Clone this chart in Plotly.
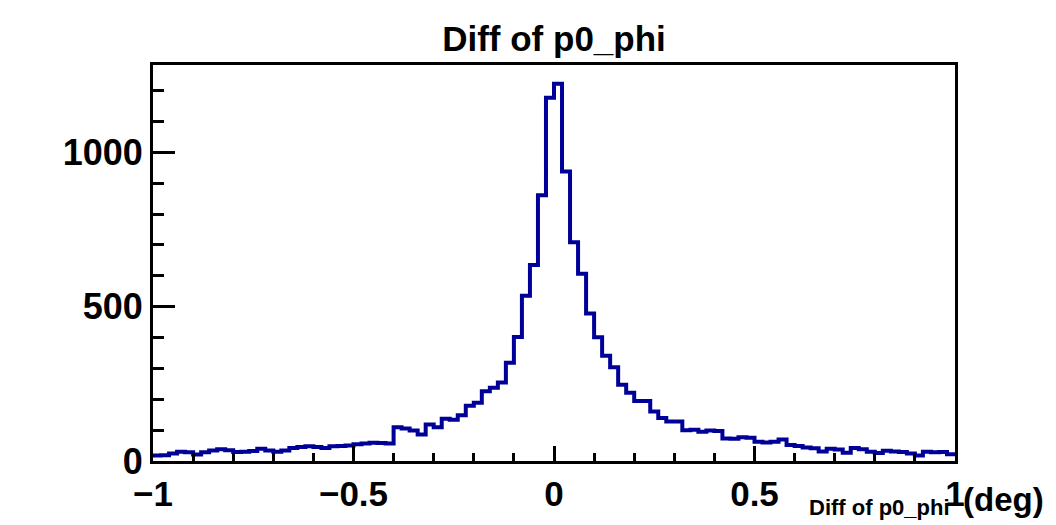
import numpy as np
import plotly.graph_objects as go

# Histogram binning and contents
x_min = -1.0
x_max = 1.0
n_bins = 100
counts = [
    18, 19, 24, 30, 28, 21, 28, 34, 38, 35,
    29, 30, 32, 40, 34, 30, 34, 42, 45, 48,
    45, 42, 48, 49, 50, 54, 57, 59, 58, 57,
    109, 105, 99, 86, 118, 109, 137, 134, 148, 179,
    189, 226, 237, 254, 318, 402, 535, 635, 861, 1177,
    1222, 938, 709, 607, 478, 401, 341, 304, 247, 221,
    194, 194, 160, 139, 128, 128, 100, 101, 95, 99,
    97, 73, 72, 77, 75, 62, 60, 62, 70, 52,
    49, 44, 41, 31, 40, 37, 27, 42, 38, 30,
    26, 33, 31, 29, 24, 18, 30, 28, 29, 22,
]
title_text = "Diff of p0_phi"
xlabel_small = "Diff of p0_phi"
xlabel_unit = "(deg)"
y_max = 1283

edges = np.linspace(x_min, x_max, n_bins + 1)
xs = list(edges)
ys = counts + [counts[-1]]

FONT = "Liberation Sans, Arial, Helvetica, sans-serif"
LINE_COLOR = "#000099"

fig = go.Figure()
fig.add_trace(go.Scatter(
    x=xs, y=ys, mode="lines", line=dict(shape="hv", color=LINE_COLOR, width=4),
    showlegend=False, hoverinfo="skip",
))

fig.update_layout(
    width=1056, height=525,
    margin=dict(l=153, r=101, t=65, b=58),
    paper_bgcolor="white", plot_bgcolor="white",
    title=dict(text=title_text, x=0.5, xref="paper", xanchor="center",
               y=1 - 39 / 525, yref="container", yanchor="middle",
               font=dict(family=FONT, size=35, color="black", weight="bold")),
    font=dict(family=FONT, color="black"),
)

fig.update_xaxes(
    range=[x_min, x_max], showgrid=False, zeroline=False,
    showline=True, linecolor="black", linewidth=3, mirror=True,
    tickmode="linear", tick0=-1, dtick=0.5,
    ticks="inside", ticklen=15, tickwidth=3, tickcolor="black",
    tickfont=dict(family=FONT, size=35, color="black", weight="bold"),
    minor=dict(dtick=0.1, tick0=-1, ticks="inside", ticklen=8, tickwidth=3, tickcolor="black"),
)
fig.update_yaxes(
    range=[0, y_max], showgrid=False, zeroline=False,
    showline=True, linecolor="black", linewidth=3, mirror=True,
    tickmode="linear", tick0=0, dtick=500,
    ticks="inside", ticklen=22, tickwidth=3, tickcolor="black",
    tickfont=dict(family=FONT, size=36, color="black", weight="bold"),
    minor=dict(dtick=100, tick0=0, ticks="inside", ticklen=11, tickwidth=3, tickcolor="black"),
)

fig.add_annotation(
    text=xlabel_small, xref="paper", yref="paper", x=1.0, y=-0.082,
    xanchor="right", yanchor="top", showarrow=False, xshift=-3,
    font=dict(family=FONT, size=22, color="black", weight="bold"),
)
fig.add_annotation(
    text=xlabel_unit, xref="paper", yref="paper", x=1.0, y=-0.045,
    xanchor="left", yanchor="top", showarrow=False, xshift=6,
    font=dict(family=FONT, size=33, color="black", weight="bold"),
)

fig.write_html("out.html")
